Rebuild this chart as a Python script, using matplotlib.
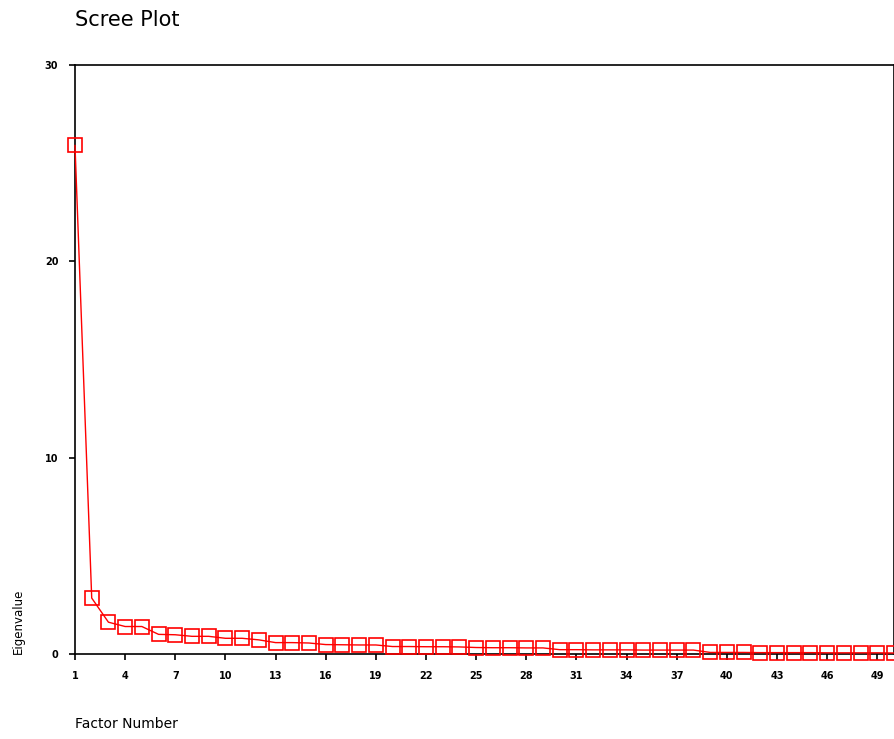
import matplotlib
matplotlib.use("Agg")
from matplotlib import pyplot as plt
import numpy as np

# eigenvalues
factors = list(range(1, 51))
eigenvalues = [25.9, 2.85, 1.62, 1.4, 1.4, 1.0, 0.98, 0.9, 0.9, 0.8,
               0.8, 0.72, 0.58, 0.58, 0.56, 0.48, 0.47, 0.46, 0.46, 0.38,
               0.38, 0.37, 0.37, 0.36, 0.33, 0.32, 0.32, 0.31, 0.31, 0.22,
               0.22, 0.21, 0.21, 0.21, 0.2, 0.2, 0.2, 0.2, 0.08, 0.08,
               0.08, 0.07, 0.07, 0.07, 0.07, 0.06, 0.06, 0.06, 0.06, 0.05]
x_ticks = list(range(1, 50, 3))
y_ticks = [0, 10, 20, 30]

fig = plt.figure(figsize=(8.95, 7.39), dpi=100)
ax = fig.add_axes([75 / 895, 85 / 739, 819 / 895, 589 / 739])

ax.plot(factors, eigenvalues, color="red", linewidth=1.0, marker="s",
        markersize=9.5, markerfacecolor="none", markeredgecolor="red",
        markeredgewidth=1.2, clip_on=False, zorder=3)

ax.set_xlim(1, 50)
ax.set_ylim(0, 30)
ax.set_xticks(x_ticks)
ax.set_yticks(y_ticks)
ax.tick_params(direction="out", length=4, width=1.2, labelsize=7, pad=8)
for lbl in ax.get_xticklabels() + ax.get_yticklabels():
    lbl.set_fontweight("bold")
for sp in ax.spines.values():
    sp.set_linewidth(1.2)

# titulo y etiquetas
fig.text(75 / 895, 1 - 20 / 739, "Scree Plot", fontsize=15, va="center", ha="left")
fig.text(75 / 895, 1 - 724 / 739, "Factor Number", fontsize=10, va="center", ha="left")
fig.text(18 / 895, 85 / 739, "Eigenvalue", fontsize=8.5, rotation=90, va="bottom",
         ha="center")

fig.savefig("out.png", dpi=100)
